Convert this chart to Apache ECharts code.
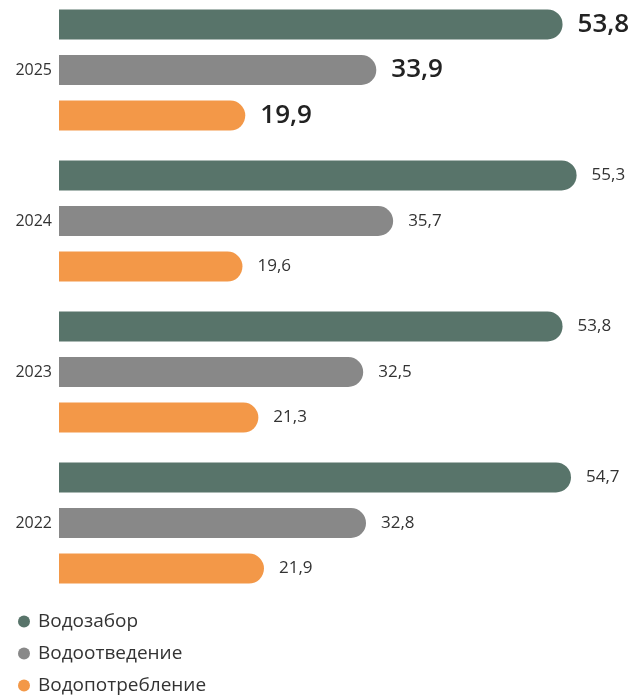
<!DOCTYPE html>
<html>
<head>
<meta charset="utf-8">
<script src="https://cdn.jsdelivr.net/npm/echarts@6/dist/echarts.min.js"></script>
<style>
  html, body { margin: 0; padding: 0; background: #fff; }
  #chart { width: 634px; height: 695px; }
</style>
</head>
<body>
<div id="chart"></div>
<script>
const years = ['2025', '2024', '2023', '2022'];
const seriesNames = ['Водозабор', 'Водоотведение', 'Водопотребление'];
const intake = [53.8, 55.3, 53.8, 54.7];
const discharge = [33.9, 35.7, 32.5, 32.8];
const consumption = [19.9, 19.6, 21.3, 21.9];
const colors = ['#58746a', '#888888', '#f39848'];

const myChart = echarts.init(document.getElementById('chart'));
const font = '"Open Sans", "Noto Sans", sans-serif';

// первая категория (текущий год) подписывается крупнее
function toItems(values) {
  return values.map((v, i) => {
    if (i !== 0) return v;
    return {
      value: v,
      label: { fontSize: 26, fontWeight: 600, color: '#222' }
    };
  });
}

function barSeries(name, values, color) {
  return {
    name: name,
    type: 'bar',
    data: toItems(values),
    barWidth: 30,
    barGap: '52%',
    itemStyle: {
      color: color,
      borderRadius: [0, 15, 15, 0]
    },
    label: {
      show: true,
      position: 'right',
      distance: 15,
      fontFamily: font,
      fontSize: 17,
      color: '#333',
      formatter: p => String(p.value).replace('.', ',')
    }
  };
}

const option = {
  animation: false,
  textStyle: { fontFamily: font },
  grid: {
    left: 59,
    right: 13.4,
    top: -5.5,
    bottom: 96.5,
    containLabel: false,
    outerBoundsMode: 'none'
  },
  xAxis: {
    type: 'value',
    min: 0,
    max: 60,
    show: false
  },
  yAxis: {
    type: 'category',
    data: years,
    inverse: true,
    axisLine: { show: false },
    axisTick: { show: false },
    axisLabel: {
      margin: 7,
      fontFamily: font,
      fontSize: 16,
      color: '#333'
    }
  },
  legend: {
    orient: 'vertical',
    left: 13,
    top: 607,
    height: 90,
    icon: 'circle',
    itemWidth: 12,
    itemHeight: 12,
    itemGap: 13,
    data: seriesNames,
    textStyle: {
      fontFamily: font,
      fontSize: 19,
      lineHeight: 19,
      color: '#333',
      padding: [0, 0, 0, 3]
    }
  },
  series: [
    barSeries(seriesNames[0], intake, colors[0]),
    barSeries(seriesNames[1], discharge, colors[1]),
    barSeries(seriesNames[2], consumption, colors[2])
  ]
};

myChart.setOption(option);
</script>
</body>
</html>
